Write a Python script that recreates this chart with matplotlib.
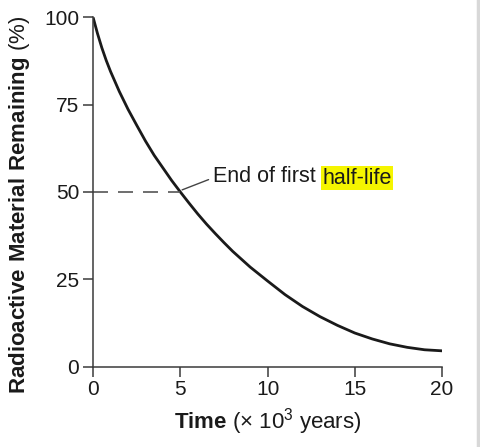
import matplotlib
matplotlib.use("Agg")
import matplotlib.pyplot as plt
from matplotlib.lines import Line2D

# valeurs (temps en milliers d'années, % restant)
time_kyr = [0, 0.25, 0.5, 0.75, 1, 1.5, 2, 2.5, 3, 3.5, 4, 4.5, 5, 5.5, 6,
            6.5, 7, 7.5, 8, 9, 10, 11, 12, 13, 14, 15, 16, 17, 18, 19, 20]
remaining = [100, 95.4, 91.3, 87.7, 84.5, 78.8, 73.7, 69.1, 64.6, 60.5,
             56.9, 53.3, 50, 46.8, 43.7, 40.8, 38.1, 35.5, 33, 28.5, 24.5,
             20.6, 17.2, 14.3, 11.8, 9.6, 7.9, 6.5, 5.5, 4.8, 4.5]

x_ticks = [0, 5, 10, 15, 20]
y_ticks = [0, 25, 50, 75, 100]
half_life_time = 5
half_life_level = 50

plt.rcParams["font.family"] = ["Liberation Sans", "DejaVu Sans"]
plt.rcParams["mathtext.fontset"] = "custom"
plt.rcParams["mathtext.rm"] = "Liberation Sans"
plt.rcParams["mathtext.bf"] = "Liberation Sans:bold"

ink = "#1a1a1a"
axis_col = "#3a3a3a"

fig = plt.figure(figsize=(4.8, 4.47), dpi=100)
ax = fig.add_axes([0.194, 0.180, 0.727, 0.781])

# courbe de décroissance
ax.plot(time_kyr, remaining, color=ink, lw=2.0, solid_capstyle="butt",
        solid_joinstyle="round")

# pointillés jusqu'à la première demi-vie
ax.plot([0, half_life_time], [half_life_level, half_life_level],
        color="#555555", lw=1.2, dashes=(9, 6))

ax.set_xlim(0, 20)
ax.set_ylim(0, 100)
ax.set_xticks(x_ticks)
ax.set_yticks(y_ticks)

for side in ["top", "right"]:
    ax.spines[side].set_visible(False)
for side in ["left", "bottom"]:
    ax.spines[side].set_color(axis_col)
    ax.spines[side].set_linewidth(1.1)

ax.tick_params(direction="out", length=7.5, width=1.1, color=axis_col,
               labelsize=15, labelcolor=ink, pad=2.5)

ax.set_xlabel(r"$\mathbf{Time}$ (× 10$^{\mathregular{3}}$ years)",
              fontsize=16, color=ink)
ax.set_ylabel(r"$\mathbf{Radioactive\ Material\ Remaining}$ (%)",
              fontsize=16, color=ink)
ax.xaxis.set_label_coords(0.5, -0.112)
ax.yaxis.set_label_coords(-0.175, 0.464)

# annotation
t1 = ax.annotate("End of first", xy=(5.1, 50.6), xytext=(6.85, 54.3),
                 ha="left", va="center", fontsize=15.5, color=ink,
                 arrowprops=dict(arrowstyle="-", color="#444444", lw=1.0,
                                 shrinkA=1, shrinkB=0, relpos=(0, 0.45)))
ax.annotate("half-life", xy=(1, 0.5), xycoords=t1, xytext=(5, 0),
            textcoords="offset points", ha="left", va="center",
            fontsize=15.5, color=ink,
            bbox=dict(boxstyle="square,pad=0.06", fc="#f5f500", ec="none"))

# bord gris à droite de l'image
fig.add_artist(Line2D([0.996, 0.996], [0, 1], transform=fig.transFigure,
                      color="#d8d8d8", lw=2.5))

fig.savefig("out.png", dpi=100)
